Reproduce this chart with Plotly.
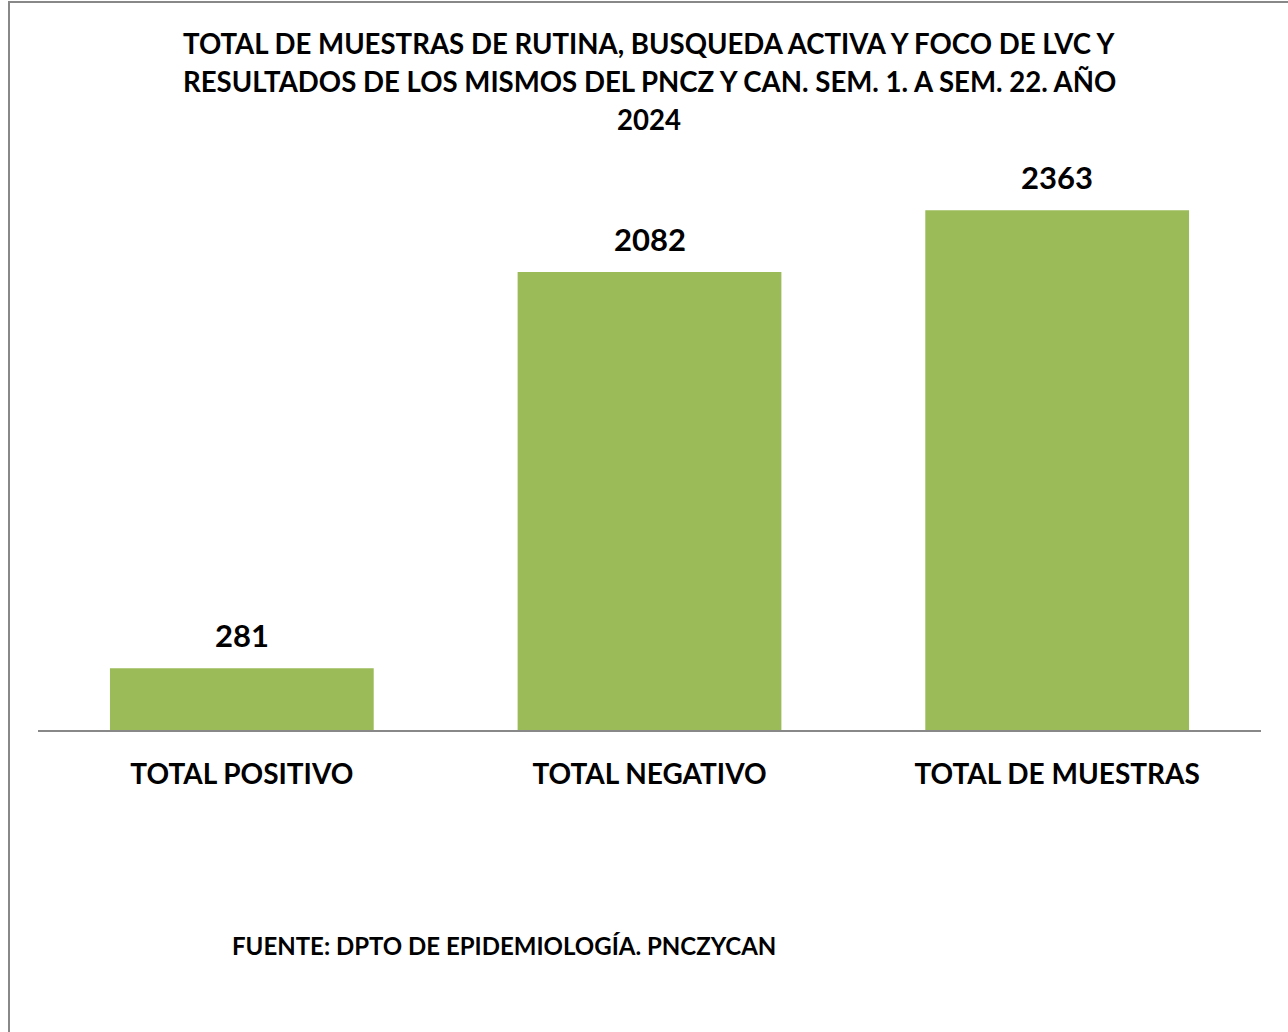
import plotly.graph_objects as go

categories = ["TOTAL POSITIVO", "TOTAL NEGATIVO", "TOTAL DE MUESTRAS"]
values = [281, 2082, 2363]

title_lines = [
    "TOTAL DE MUESTRAS DE RUTINA, BUSQUEDA ACTIVA Y FOCO DE LVC Y",
    "RESULTADOS DE LOS MISMOS DEL PNCZ Y CAN. SEM. 1. A SEM. 22. AÑO",
    "2024",
]
source_text = "FUENTE: DPTO DE EPIDEMIOLOGÍA. PNCZYCAN"

FONT = "Lato, 'Open Sans', sans-serif"
W, H = 1288, 1032
ml, mr, mt, mb = 38, 27, 158, 302
ymax = 2600
ph = H - mt - mb

fig = go.Figure()
fig.add_trace(go.Bar(
    x=categories, y=values,
    marker=dict(color="#9BBB59", line=dict(width=0)),
    width=0.647,
    hoverinfo="x+y",
))

for c, v in zip(categories, values):
    fig.add_annotation(x=c, y=v, text=f"<b>{v}</b>", showarrow=False,
                       yanchor="bottom", yshift=12,
                       font=dict(family=FONT, size=31, color="#000000"))

def py2paper(py):
    return (H - mb - py) / ph

title_y = [43, 81, 120]
for t, yy in zip(title_lines, title_y):
    fig.add_annotation(xref="paper", yref="paper", x=(649 - ml) / (W - ml - mr),
                       y=py2paper(yy), text=f"<b>{t}</b>", showarrow=False,
                       xanchor="center", yanchor="middle",
                       font=dict(family=FONT, size=27.6, color="#000000"))

fig.add_annotation(xref="paper", yref="paper", x=(230 - ml) / (W - ml - mr),
                   y=py2paper(945), text=f"<b>{source_text}</b>", showarrow=False,
                   xanchor="left", yanchor="middle",
                   font=dict(family=FONT, size=24, color="#000000"))

# outer chart border (left and top visible)
fig.add_shape(type="rect", xref="paper", yref="paper",
              x0=(9 - ml) / (W - ml - mr), x1=1.1,
              y0=-1.0, y1=py2paper(2),
              line=dict(color="#888888", width=2), fillcolor="rgba(0,0,0,0)",
              layer="below")

fig.update_layout(
    width=W, height=H,
    margin=dict(l=ml, r=mr, t=mt, b=mb),
    paper_bgcolor="white", plot_bgcolor="white",
    showlegend=False,
    bargap=0.353,
    xaxis=dict(showline=True, linecolor="#888888", linewidth=2,
               ticks="outside", ticklen=18, tickcolor="rgba(0,0,0,0)",
               tickfont=dict(family=FONT, size=28, color="#000000"),
               showgrid=False, zeroline=False,
               tickprefix="<b>", ticksuffix="</b>"),
    yaxis=dict(range=[0, ymax], visible=False, showgrid=False, zeroline=False),
)

fig.write_html("out.html")
